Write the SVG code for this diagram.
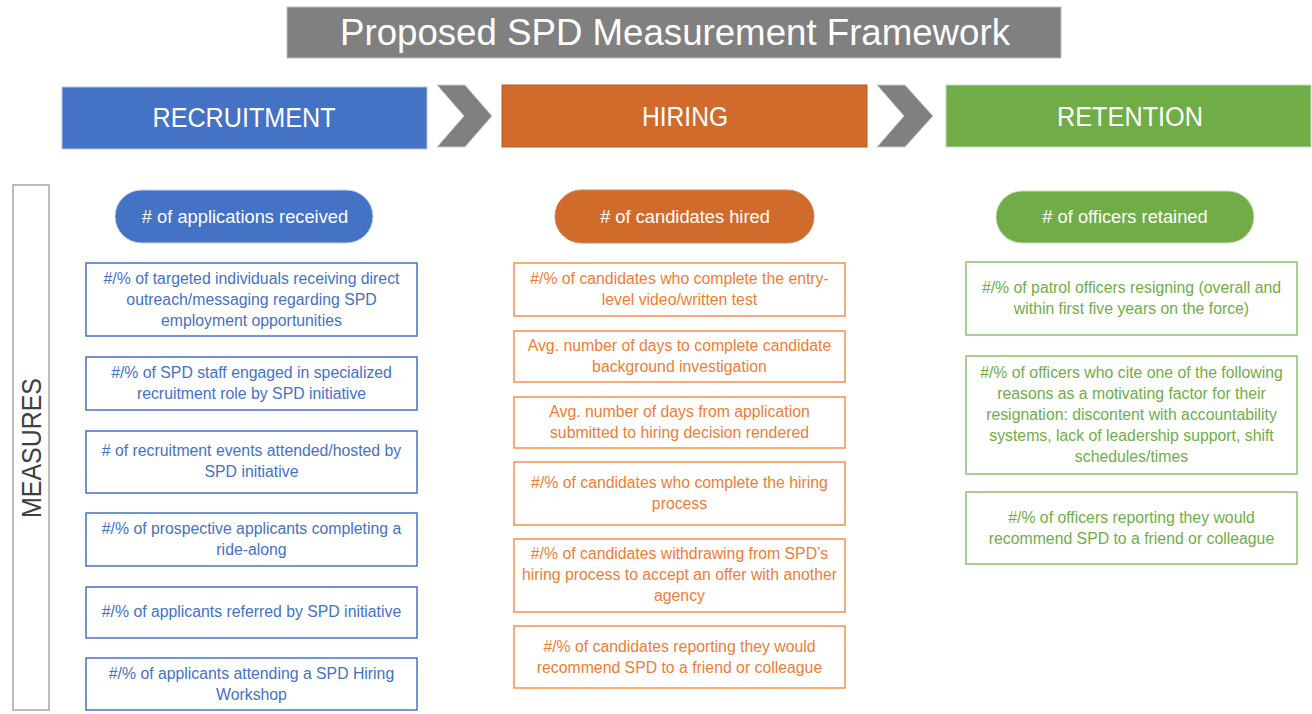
<svg xmlns="http://www.w3.org/2000/svg" width="1312" height="714" viewBox="0 0 1312 714">
<style>
text{font-family:"Liberation Sans",Arial,sans-serif;text-anchor:middle}
.hdr{fill:#fff;font-size:27px}
.pill{fill:#fff;font-size:18.3px}
.b{fill:#fff;stroke-width:1.5}
.bl{stroke:#4472C4}.or{stroke:#F4904C}.gr{stroke:#8CC169}
.tb{fill:#4472C4;font-size:15.8px}.to{fill:#EE7D33;font-size:15.8px}.tg{fill:#70AD47;font-size:15.8px}
</style>
<rect width="1312" height="714" fill="#fff"/>
<g id="title">
<rect x="287" y="7" width="774" height="51" fill="#808080" stroke="#BFBFBF" stroke-width="1"/>
<text x="675" y="45" fill="#fff" font-size="37" textLength="670" lengthAdjust="spacingAndGlyphs">Proposed SPD Measurement Framework</text>
</g>
<g id="recruitment">
<rect x="62" y="87" width="365" height="62" fill="#4472C4" stroke="#B4C7E7" stroke-width="1"/>
<text class="hdr" x="244" y="127" textLength="183" lengthAdjust="spacingAndGlyphs">RECRUITMENT</text>
</g>
<g id="hiring">
<rect x="502" y="85" width="365" height="62" fill="#D06B2C" stroke="#B85A20" stroke-width="1"/>
<text class="hdr" x="685" y="126" textLength="86" lengthAdjust="spacingAndGlyphs">HIRING</text>
</g>
<g id="retention">
<rect x="946" y="85" width="365" height="62" fill="#70AD47" stroke="#C9D9BE" stroke-width="1"/>
<text class="hdr" x="1130" y="126" textLength="146" lengthAdjust="spacingAndGlyphs">RETENTION</text>
</g>
<g id="connectors">
<polygon points="437,85 465,85 492,116 465,147 437,147 464,116" fill="#808080" stroke="#D0D0D0" stroke-width="1"/>
<polygon points="877,85 905,85 933,116 905,147 877,147 904,116" fill="#808080" stroke="#D0D0D0" stroke-width="1"/>
</g>
<g id="measures">
<rect x="13" y="185" width="36" height="525" fill="#fff" stroke="#A6A6A6" stroke-width="1.5"/>
<text transform="translate(41,448) rotate(-90)" fill="#404040" font-size="27" textLength="140" lengthAdjust="spacingAndGlyphs">MEASURES</text>
</g>
<g id="pill-applications">
<rect x="115" y="190" width="258" height="53" rx="26.5" fill="#4472C4" stroke="#C9D3E8" stroke-width="1"/>
<text class="pill" x="245" y="223"># of applications received</text>
</g>
<g id="pill-hired">
<rect x="555" y="190" width="259" height="53" rx="26.5" fill="#D06B2C" stroke="#C98A60" stroke-width="1"/>
<text class="pill" x="685" y="223"># of candidates hired</text>
</g>
<g id="pill-retained">
<rect x="996" y="191" width="258" height="52" rx="26" fill="#70AD47" stroke="#D0DDC6" stroke-width="1"/>
<text class="pill" x="1125" y="223"># of officers retained</text>
</g>
<g id="r1"><rect class="b bl" x="86" y="263" width="331" height="73"/>
<text class="tb" x="251.5" y="284">#/% of targeted individuals receiving direct</text>
<text class="tb" x="251.5" y="305">outreach/messaging regarding SPD</text>
<text class="tb" x="251.5" y="326">employment opportunities</text></g>
<g id="r2"><rect class="b bl" x="86" y="357" width="331" height="53"/>
<text class="tb" x="251.5" y="378">#/% of SPD staff engaged in specialized</text>
<text class="tb" x="251.5" y="399">recruitment role by SPD initiative</text></g>
<g id="r3"><rect class="b bl" x="86" y="431" width="331" height="62"/>
<text class="tb" x="251.5" y="456"># of recruitment events attended/hosted by</text>
<text class="tb" x="251.5" y="477">SPD initiative</text></g>
<g id="r4"><rect class="b bl" x="86" y="513" width="331" height="53"/>
<text class="tb" x="251.5" y="534">#/% of prospective applicants completing a</text>
<text class="tb" x="251.5" y="555">ride-along</text></g>
<g id="r5"><rect class="b bl" x="86" y="587" width="331" height="51"/>
<text class="tb" x="251.5" y="617">#/% of applicants referred by SPD initiative</text></g>
<g id="r6"><rect class="b bl" x="86" y="658" width="331" height="52"/>
<text class="tb" x="251.5" y="679">#/% of applicants attending a SPD Hiring</text>
<text class="tb" x="251.5" y="700">Workshop</text></g>
<g id="h1"><rect class="b or" x="514" y="263" width="331" height="53"/>
<text class="to" x="679.5" y="284">#/% of candidates who complete the entry-</text>
<text class="to" x="679.5" y="305">level video/written test</text></g>
<g id="h2"><rect class="b or" x="514" y="331" width="331" height="51"/>
<text class="to" x="679.5" y="351">Avg. number of days to complete candidate</text>
<text class="to" x="679.5" y="372">background investigation</text></g>
<g id="h3"><rect class="b or" x="514" y="397" width="331" height="51"/>
<text class="to" x="679.5" y="417">Avg. number of days from application</text>
<text class="to" x="679.5" y="438">submitted to hiring decision rendered</text></g>
<g id="h4"><rect class="b or" x="514" y="462" width="331" height="63"/>
<text class="to" x="679.5" y="488">#/% of candidates who complete the hiring</text>
<text class="to" x="679.5" y="509">process</text></g>
<g id="h5"><rect class="b or" x="514" y="539" width="331" height="73"/>
<text class="to" x="679.5" y="559">#/% of candidates withdrawing from SPD’s</text>
<text class="to" x="679.5" y="580">hiring process to accept an offer with another</text>
<text class="to" x="679.5" y="601">agency</text></g>
<g id="h6"><rect class="b or" x="514" y="626" width="331" height="62"/>
<text class="to" x="679.5" y="652">#/% of candidates reporting they would</text>
<text class="to" x="679.5" y="673">recommend SPD to a friend or colleague</text></g>
<g id="t1"><rect class="b gr" x="966" y="262" width="331" height="73"/>
<text class="tg" x="1131.5" y="293">#/% of patrol officers resigning (overall and</text>
<text class="tg" x="1131.5" y="314">within first five years on the force)</text></g>
<g id="t2"><rect class="b gr" x="966" y="356" width="331" height="118"/>
<text class="tg" x="1131.5" y="378">#/% of officers who cite one of the following</text>
<text class="tg" x="1131.5" y="399">reasons as a motivating factor for their</text>
<text class="tg" x="1131.5" y="420">resignation: discontent with accountability</text>
<text class="tg" x="1131.5" y="441">systems, lack of leadership support, shift</text>
<text class="tg" x="1131.5" y="462">schedules/times</text></g>
<g id="t3"><rect class="b gr" x="966" y="492" width="331" height="72"/>
<text class="tg" x="1131.5" y="523">#/% of officers reporting they would</text>
<text class="tg" x="1131.5" y="544">recommend SPD to a friend or colleague</text></g>
</svg>
